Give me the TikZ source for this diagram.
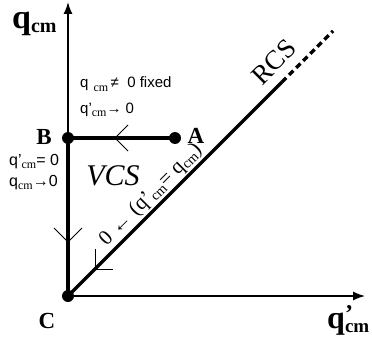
\documentclass[tikz,border=0pt]{standalone}
\usepackage{fontspec}
\setmainfont{Liberation Serif}
\setsansfont{Liberation Sans}
\usetikzlibrary{arrows.meta}
\newcommand{\lowsub}[2]{\raisebox{-#1}{#2}}
\newcommand{\smcm}{\lowsub{3pt}{\rmfamily\fontsize{12}{12}\selectfont cm}}
\begin{document}
\begin{tikzpicture}[x=1pt,y=-1pt,
  axis/.style={line width=1.4pt,-{Latex[length=12pt,width=9pt]}},
  thickpath/.style={line width=3.5pt},
  chev/.style={line width=1pt},
  dot/.style={circle,fill,inner sep=0pt,minimum size=12pt},
  lbl/.style={font=\fontsize{23}{23}\selectfont\bfseries,anchor=base,inner sep=0pt},
  note/.style={font=\fontsize{15}{15}\selectfont\sffamily,anchor=base west,inner sep=0pt}]
\useasboundingbox (0,0) rectangle (372,345);
\node[dot] (C) at (68,296) {};
\node[dot] (B) at (68,138) {};
\node[dot] (A) at (175,138) {};
\coordinate (ytop) at (68,2);
\coordinate (xend) at (365,296);
\coordinate (D1) at (282,82);
\coordinate (D2) at (333,31);
\draw[axis] (C.center) -- (ytop);
\draw[axis] (C.center) -- (xend);
\draw[thickpath] (C.center) -- (B.center) -- (A.center);
\draw[thickpath] (C.center) -- (D1);
\draw[thickpath, dash pattern=on 6pt off 4pt] (D1) -- (D2);
% chevrons
\coordinate (m1) at (115,138);
\coordinate (m2) at (68,242);
\coordinate (m3) at (95,269);
\draw[chev] ([shift={(13,-13)}]m1) -- (m1) -- ([shift={(13,13)}]m1);
\draw[chev] ([shift={(-14,-14)}]m2) -- (m2) -- ([shift={(14,-14)}]m2);
\draw[chev] ([shift={(0,-20)}]m3) -- (m3) -- ([shift={(18,0)}]m3);
% labels
\node[lbl] (Bl) at (44,144) {B};
\node[lbl] (Al) at (196,143) {A};
\node[lbl] (Cl) at (47,328) {C};
\node[anchor=base west,inner sep=0pt,font=\bfseries] (yl) at (12,29)
  {\fontsize{34}{34}\selectfont q\lowsub{4pt}{\fontsize{20}{20}\selectfont cm}};
\node[anchor=base west,inner sep=0pt,font=\bfseries] (xl) at (327,328)
  {\fontsize{32}{32}\selectfont q\makebox[0pt][l]{\raisebox{7pt}{\fontsize{24}{24}\selectfont '}}\lowsub{4pt}{\fontsize{19}{19}\selectfont cm}};
\node[note] (n1) at (80,88) {q\,\,\smcm\,≠\ \ 0 fixed};
\node[note] (n2) at (80,113) {q'\smcm→ 0};
\node[note,font=\fontsize{16}{16}\selectfont\sffamily] (n3) at (9,165) {q'\smcm= 0};
\node[note,font=\fontsize{16}{16}\selectfont\sffamily] (n4) at (9,186) {q\smcm→0};
\node[font=\fontsize{30}{30}\selectfont\itshape] (vcs) at (113,176) {VCS};
\node[font=\fontsize{27}{27}\selectfont, rotate=45] (rcs) at (274,62) {RCS};
\node[font=\fontsize{21}{21}\selectfont, rotate=45] (dl) at (151,195)
  {0 ← (q'\lowsub{3pt}{\fontsize{14}{14}\selectfont cm}= q\lowsub{3pt}{\fontsize{14}{14}\selectfont cm})};
\end{tikzpicture}
\end{document}
